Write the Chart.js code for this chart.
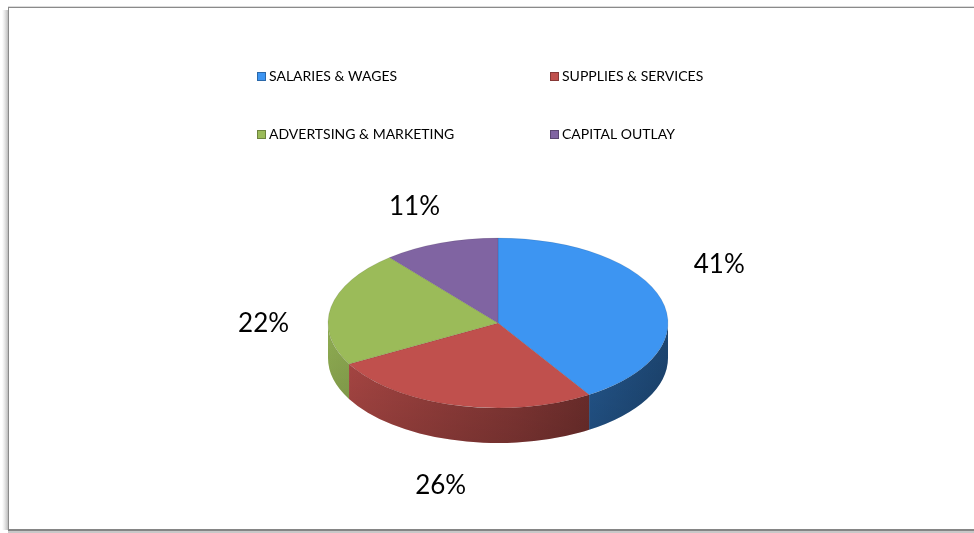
<!DOCTYPE html>
<html>
<head>
<meta charset="utf-8">
<title>Budget breakdown</title>
<script src="https://cdn.jsdelivr.net/npm/chart.js@4.4.1/dist/chart.umd.min.js"></script>
<style>
  html, body { margin: 0; padding: 0; background: #fff; }
  canvas { display: block; }
</style>
</head>
<body>
<canvas id="budgetChart" width="974" height="533"></canvas>
<script>
var categories = ['SALARIES & WAGES', 'SUPPLIES & SERVICES', 'ADVERTSING & MARKETING', 'CAPITAL OUTLAY'];
var shares = [41, 26, 22, 11];
var sliceColors = ['#3d95f2', '#c0504d', '#9bbb59', '#8064a2'];

var TILT = 0.5;   // vertical squash of the pie top
var DEPTH = 35;   // height of the pie wall

function shade(hex, f) {
    var n = parseInt(hex.slice(1), 16);
    var r = Math.round(((n >> 16) & 255) * f);
    var g = Math.round(((n >> 8) & 255) * f);
    var b = Math.round((n & 255) * f);
    return 'rgb(' + r + ',' + g + ',' + b + ')';
}

// white background and the grey frame with its soft shadow
var framePlugin = {
    id: 'frame',
    beforeDraw: function(chart) {
        var ctx = chart.ctx;
        ctx.save();
        ctx.fillStyle = '#fff';
        ctx.fillRect(0, 0, chart.width, chart.height);

        var sh = ctx.createLinearGradient(2, 0, 8, 0);
        sh.addColorStop(0, 'rgba(200,200,200,0)');
        sh.addColorStop(1, 'rgba(170,170,170,0.8)');
        ctx.fillStyle = sh;
        ctx.fillRect(2, 10, 6, 520);

        ctx.fillStyle = '#c8c8c8';
        ctx.fillRect(8, 531, chart.width, 2);
        ctx.fillStyle = '#dcdcdc';
        ctx.fillRect(8, 6, chart.width, 1);

        ctx.strokeStyle = '#8a8a8a';
        ctx.lineWidth = 1;
        ctx.strokeRect(8.5, 7.5, 990, 522);
        ctx.fillStyle = '#858585';
        ctx.fillRect(8, 529, chart.width, 2);
        ctx.restore();
    }
};

// walls under the front half, then squash the slices into an ellipse
var tiltPlugin = {
    id: 'tilt',
    beforeDatasetsDraw: function(chart) {
        var ctx = chart.ctx;
        var arcs = chart.getDatasetMeta(0).data;
        var colors = chart.data.datasets[0].backgroundColor;
        var cx = arcs[0].x, cy = arcs[0].y, r = arcs[0].outerRadius, ry = r * TILT;

        ctx.save();
        arcs.forEach(function(arc, i) {
            var a = Math.max(arc.startAngle, 0);
            var b = Math.min(arc.endAngle, Math.PI);
            if (b <= a) return;

            var grad = ctx.createLinearGradient(cx - r, 0, cx + r, 0);
            grad.addColorStop(0, shade(colors[i], 0.92));
            grad.addColorStop(0.55, shade(colors[i], 0.7));
            grad.addColorStop(1, shade(colors[i], 0.47));

            ctx.beginPath();
            ctx.ellipse(cx, cy, r, ry, 0, a, b);
            ctx.ellipse(cx, cy + DEPTH, r, ry, 0, b, a, true);
            ctx.closePath();
            ctx.fillStyle = grad;
            ctx.fill();

            var vg = ctx.createLinearGradient(0, cy, 0, cy + ry + DEPTH);
            vg.addColorStop(0, 'rgba(0,0,0,0)');
            vg.addColorStop(1, 'rgba(0,0,0,0.15)');
            ctx.fillStyle = vg;
            ctx.fill();
        });
        ctx.restore();

        ctx.save();
        ctx.translate(0, cy);
        ctx.scale(1, TILT);
        ctx.translate(0, -cy);
    },
    afterDatasetsDraw: function(chart) {
        chart.ctx.restore();
    }
};

// percentage labels and the two-column legend
var labelPlugin = {
    id: 'sliceLabels',
    afterDraw: function(chart, args, opts) {
        var ctx = chart.ctx;
        var arcs = chart.getDatasetMeta(0).data;
        var ds = chart.data.datasets[0];
        var total = ds.data.reduce(function(s, v) { return s + v; }, 0);
        var cx = arcs[0].x, cy = arcs[0].y, r = arcs[0].outerRadius;

        ctx.save();
        ctx.fillStyle = '#000';
        ctx.font = '26px Lato';
        ctx.textAlign = 'center';
        ctx.textBaseline = 'middle';
        arcs.forEach(function(arc, i) {
            var mid = (arc.startAngle + arc.endAngle) / 2;
            var nudge = opts.nudge[i] || [0, 0];
            var x = cx - 4 + r * 1.38 * Math.cos(mid) + nudge[0];
            var y = cy + DEPTH * 0.6 + r * 0.86 * Math.sin(mid) + nudge[1];
            ctx.fillText(Math.round(ds.data[i] / total * 100) + '%', x, y);
        });

        ctx.font = '14px Lato';
        ctx.textAlign = 'left';
        chart.data.labels.forEach(function(label, i) {
            var x = 257 + (i % 2) * 293;
            var y = 76.5 + Math.floor(i / 2) * 58;
            ctx.fillStyle = ds.backgroundColor[i];
            ctx.fillRect(x, y - 4.5, 9, 9);
            ctx.strokeStyle = shade(ds.backgroundColor[i], 0.7);
            ctx.lineWidth = 1;
            ctx.strokeRect(x + 0.5, y - 4, 8, 8);
            ctx.fillStyle = '#000';
            ctx.fillText(label, x + 12, y);
        });
        ctx.restore();
    }
};

var ctx = document.getElementById('budgetChart').getContext('2d');
var budgetChart = new Chart(ctx, {
    type: 'pie',
    data: {
        labels: categories,
        datasets: [{
            data: shares,
            backgroundColor: sliceColors,
            borderColor: 'rgba(0,0,0,0.12)',
            borderWidth: 1,
            radius: 170,
            clip: false
        }]
    },
    options: {
        responsive: false,
        animation: false,
        events: [],
        layout: {
            padding: { left: 328, right: 306, top: 153, bottom: 40 }
        },
        plugins: {
            legend: { display: false },
            tooltip: { enabled: false },
            sliceLabels: { nudge: [[0, -39], [5, 0], [0, 7], [0, 0]] }
        }
    },
    plugins: [framePlugin, tiltPlugin, labelPlugin]
});
</script>
</body>
</html>
